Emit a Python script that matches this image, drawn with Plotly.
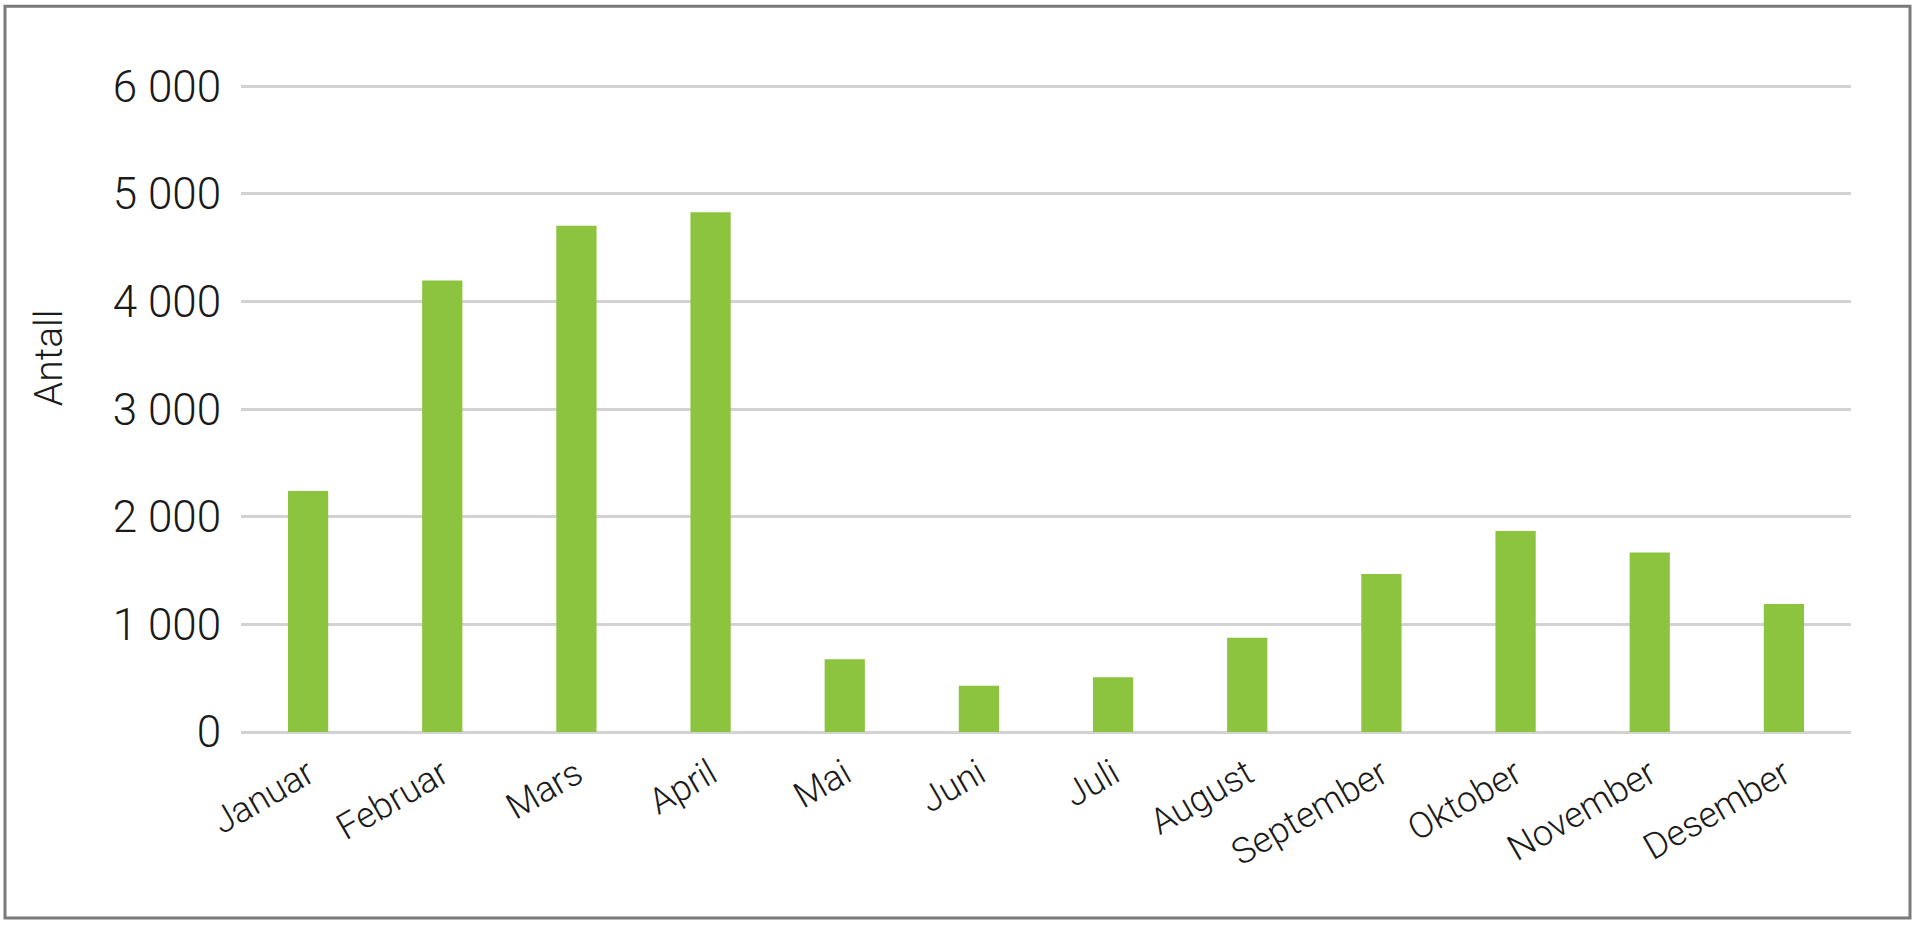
import plotly.graph_objects as go

months = ["Januar", "Februar", "Mars", "April", "Mai", "Juni", "Juli",
          "August", "September", "Oktober", "November", "Desember"]
antall = [2240, 4195, 4705, 4830, 675, 430, 508, 875, 1468, 1868, 1668, 1190]
y_ticks = [0, 1000, 2000, 3000, 4000, 5000, 6000]
y_tick_labels = ["0", "1 000", "2 000", "3 000", "4 000", "5 000", "6 000"]
y_title = "Antall"

W, H = 1920, 941
y_max = 6040
y0_px, y6000_px = 732, 86          # pixel rows of 0 and 6000 gridlines
ppu = (y0_px - y6000_px) / 6000.0
L, plot_right = 241, 1851
T = y0_px - y_max * ppu
R, B = W - plot_right, H - y0_px
pw, ph = W - L - R, H - T - B

def px(x):
    return (x - L) / pw

def py(y):
    return (H - B - y) / ph

FONT = "Roboto, Liberation Sans, Arial, sans-serif"
TXT = "#1a1a1a"

fig = go.Figure(go.Bar(
    x=months, y=antall,
    marker=dict(color="#8cc43f", line=dict(width=0)),
    hoverinfo="x+y",
))

fig.update_layout(
    width=W, height=H,
    margin=dict(l=L, r=R, t=T, b=B, pad=0),
    paper_bgcolor="white", plot_bgcolor="white",
    bargap=0.7,
    showlegend=False,
    font=dict(family=FONT, color=TXT),
    xaxis=dict(
        tickangle=-30, tickfont=dict(size=36, family=FONT, color=TXT, weight=300),
        showgrid=False, showline=False, ticks="outside", ticklen=6,
        tickcolor="rgba(0,0,0,0)",
        automargin=False,
    ),
    yaxis=dict(
        range=[0, y_max], tickvals=y_ticks, ticktext=y_tick_labels,
        tickfont=dict(size=44, family=FONT, color=TXT, weight=300),
        showgrid=True, gridcolor="#d2d2d2", gridwidth=3,
        zeroline=True, zerolinecolor="#d2d2d2", zerolinewidth=3,
        showline=False, ticks="outside", ticklen=10, tickcolor="rgba(0,0,0,0)",
        automargin=False,
    ),
    annotations=[dict(
        text=y_title, textangle=-90, xref="paper", yref="paper",
        x=px(49), y=py(358), showarrow=False,
        font=dict(size=39, family=FONT, color=TXT, weight=300),
        xanchor="center", yanchor="middle",
    )],
    shapes=[dict(
        type="rect", xref="paper", yref="paper",
        x0=px(5), x1=px(1910), y0=py(918), y1=py(6),
        line=dict(color="#7a7a7a", width=3), fillcolor="rgba(0,0,0,0)",
        layer="below",
    )],
)

fig.write_html(
    "out.html",
    config={"displayModeBar": False},
    post_script="document.body.style.margin='0';document.body.style.overflow='hidden';",
)
